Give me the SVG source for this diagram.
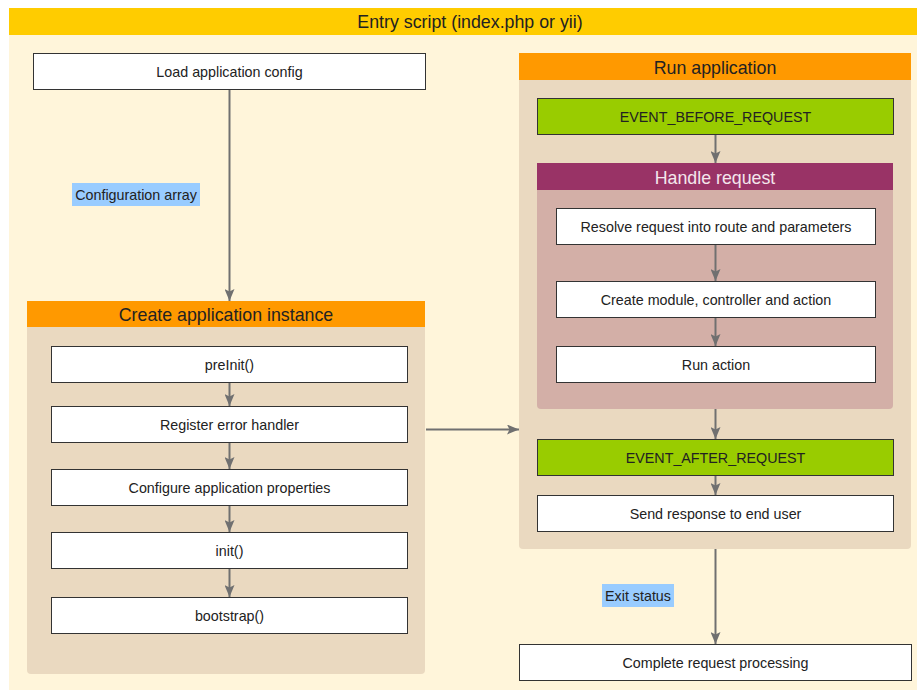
<svg xmlns="http://www.w3.org/2000/svg" width="918" height="691" viewBox="0 0 918 691">
<defs>
<style>
.t{font-family:"Liberation Sans",Arial,sans-serif;font-size:14.3px;fill:#222;text-anchor:middle}
.h{font-family:"Liberation Sans",Arial,sans-serif;font-size:17.8px;fill:#222;text-anchor:middle}
.box{fill:#fff;stroke:#333;stroke-width:1}
.ev{fill:#99CC00;stroke:#333;stroke-width:1}
.lbl{fill:#99CCFF}
.body{fill:#EAD9C0}
.hbody{fill:#D3AFA7}
.orange{fill:#FF9900}
.conn line{stroke:#707070;stroke-width:2;marker-end:url(#arr)}
</style>
<marker id="arr" viewBox="0 0 12 10" refX="12" refY="5" markerWidth="12" markerHeight="10" markerUnits="userSpaceOnUse" orient="auto">
<path d="M0,0 L12,5 L0,10 L2.5,5 z" fill="#707070"/>
</marker>
</defs>
<rect x="9" y="8" width="908" height="682" fill="#FFF5DA"/>
<g id="entry">
<rect x="9" y="8" width="908" height="27" fill="#FFCC00"/>
<text class="h" x="470" y="28">Entry script (index.php or yii)</text>
</g>
<g id="load-config">
<rect class="box" x="33.5" y="53.5" width="392" height="36"/>
<text class="t" x="229.5" y="76.5">Load application config</text>
</g>
<g id="config-array">
<rect class="lbl" x="72" y="183" width="128" height="23"/>
<text class="t" x="136" y="199.5">Configuration array</text>
</g>
<g id="create-app">
<rect class="body" x="27" y="301" width="398" height="373" rx="4"/>
<rect class="orange" x="27" y="301" width="398" height="26"/>
<text class="h" x="226" y="320.5">Create application instance</text>
</g>
<g id="preinit">
<rect class="box" x="51.5" y="346.5" width="356" height="36"/>
<text class="t" x="229.5" y="369.5">preInit()</text>
</g>
<g id="register-error">
<rect class="box" x="51.5" y="406.5" width="356" height="36"/>
<text class="t" x="229.5" y="429.5">Register error handler</text>
</g>
<g id="configure-props">
<rect class="box" x="51.5" y="469.5" width="356" height="36"/>
<text class="t" x="229.5" y="492.5">Configure application properties</text>
</g>
<g id="init">
<rect class="box" x="51.5" y="532.5" width="356" height="36"/>
<text class="t" x="229.5" y="555.5">init()</text>
</g>
<g id="bootstrap">
<rect class="box" x="51.5" y="597.5" width="356" height="36"/>
<text class="t" x="229.5" y="620.5">bootstrap()</text>
</g>
<g id="run-app">
<rect class="body" x="519" y="53" width="392" height="496" rx="4"/>
<rect class="orange" x="519" y="53" width="392" height="27"/>
<text class="h" x="715" y="73.5">Run application</text>
</g>
<g id="event-before">
<rect class="ev" x="537.5" y="98.5" width="356" height="36"/>
<text class="t" x="715.5" y="121.5">EVENT_BEFORE_REQUEST</text>
</g>
<g id="handle-request">
<rect class="hbody" x="537" y="163" width="356" height="246" rx="4"/>
<rect x="537" y="163" width="356" height="27" fill="#993366"/>
<text class="h" x="715" y="183.5" style="fill:#F4E6EC">Handle request</text>
</g>
<g id="resolve">
<rect class="box" x="556.5" y="208.5" width="319" height="36"/>
<text class="t" x="716" y="231.5">Resolve request into route and parameters</text>
</g>
<g id="create-module">
<rect class="box" x="556.5" y="281.5" width="319" height="36"/>
<text class="t" x="716" y="304.5">Create module, controller and action</text>
</g>
<g id="run-action">
<rect class="box" x="556.5" y="346.5" width="319" height="36"/>
<text class="t" x="716" y="369.5">Run action</text>
</g>
<g id="event-after">
<rect class="ev" x="537.5" y="439.5" width="356" height="36"/>
<text class="t" x="715.5" y="462.5">EVENT_AFTER_REQUEST</text>
</g>
<g id="send-response">
<rect class="box" x="537.5" y="495.5" width="356" height="36"/>
<text class="t" x="715.5" y="518.5">Send response to end user</text>
</g>
<g id="exit-status">
<rect class="lbl" x="602" y="584" width="72" height="23"/>
<text class="t" x="638" y="600.5">Exit status</text>
</g>
<g id="complete">
<rect class="box" x="519.5" y="644.5" width="392" height="36"/>
<text class="t" x="715.5" y="667.5">Complete request processing</text>
</g>
<g class="conn" id="connectors">
<line x1="229.5" y1="90" x2="229.5" y2="301"/>
<line x1="229.5" y1="383" x2="229.5" y2="406"/>
<line x1="229.5" y1="443" x2="229.5" y2="469"/>
<line x1="229.5" y1="506" x2="229.5" y2="532"/>
<line x1="229.5" y1="569" x2="229.5" y2="597"/>
<line x1="426" y1="429.5" x2="519" y2="429.5"/>
<line x1="715.5" y1="135" x2="715.5" y2="163"/>
<line x1="715.5" y1="245" x2="715.5" y2="281"/>
<line x1="715.5" y1="318" x2="715.5" y2="346"/>
<line x1="715.5" y1="409" x2="715.5" y2="439"/>
<line x1="715.5" y1="476" x2="715.5" y2="495"/>
<line x1="715.5" y1="549" x2="715.5" y2="644"/>
</g>
</svg>
